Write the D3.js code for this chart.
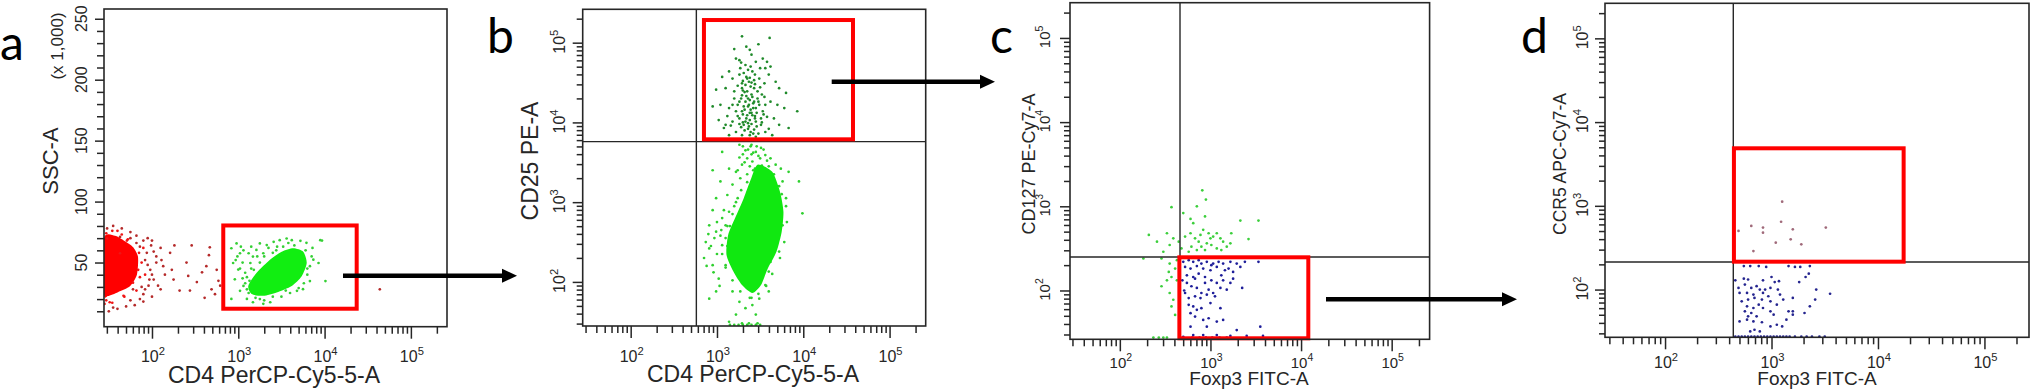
<!DOCTYPE html>
<html>
<head>
<meta charset="utf-8">
<script src="https://cdn.jsdelivr.net/npm/d3@7"></script>
<style>
  html, body { margin: 0; padding: 0; background: #fff; }
  svg { display: block; }
</style>
</head>
<body>
<svg id="fig" width="2032" height="392"></svg>
<script>
// Log channels are stored as log10(intensity); SSC-A is in thousands.
const LOG_MAX = Math.log10(262143);
const xDecades = [2, 3, 4, 5];
const yDecades = [2, 3, 4, 5];
const sscLabels = [50, 100, 150, 200, 250];

// ---- panel a : CD4 (log) vs SSC-A (x1000)
const aRedCore = [[1.444, 70], [1.571, 72], [1.687, 67.5], [1.78, 62.7], [1.838, 54.7], [1.826, 40.2],
  [1.745, 30.5], [1.606, 25.7], [1.49, 22.5], [1.444, 24.1]];
const aRedFringe = [[1.47, 74], [1.54, 76], [1.65, 73], [1.72, 69], [1.85, 58], [1.88, 50], [1.86, 38],
  [1.82, 27], [1.68, 22], [1.54, 17], [1.47, 19], [1.45, 16], [1.71, 68], [1.63, 57.6], [1.84, 44],
  [1.78, 33.5], [1.67, 22.7], [1.51, 17.4], [1.48, 69.7], [1.9, 62], [1.6, 76], [1.92, 40]];
const aRedDots = [[2.26, 64], [2.46, 64], [2.67, 62.5], [2.66, 56], [2.21, 58], [2.11, 52], [2.13, 47],
  [2.23, 44], [2.25, 36], [2.32, 27], [2.44, 27], [2.42, 39], [2.4, 50], [2.52, 34], [2.58, 42], [2.63, 47],
  [2.61, 21], [2.69, 28], [2.75, 44], [2.77, 35], [2.73, 24], [2.79, 31], [1.99, 64], [2.02, 59], [2.05, 50],
  [1.98, 44], [1.96, 31], [2.02, 36], [2.07, 31], [1.9, 24], [1.55, 13], [1.86, 20], [1.75, 19], [1.78, 28],
  [1.94, 58], [1.82, 66], [1.63, 71], [1.75, 70], [1.86, 63], [4.64, 28], [1.95, 70], [2.0, 68], [2.1, 62],
  [2.05, 55], [1.92, 52], [1.95, 48], [2.0, 40], [1.97, 36], [1.92, 28], [1.88, 30], [1.9, 18], [1.8, 15],
  [1.7, 14], [1.6, 12], [1.5, 10], [1.65, 78], [1.75, 75], [1.82, 72], [1.9, 68], [1.55, 80], [1.48, 78],
  [2.15, 40], [2.1, 28], [2.0, 22]];
const aGreenCore = [[3.116, 30.8], [3.213, 41.6], [3.367, 52.3], [3.503, 58.9], [3.637, 61.7], [3.753, 58.9],
  [3.793, 49.6], [3.735, 38.8], [3.619, 30.8], [3.445, 25.5], [3.29, 22.7], [3.155, 24.1]];
const aGreenDots = [[2.92, 61.7], [2.98, 65.7], [3.02, 57.6], [2.94, 49.6], [3.0, 44.2], [2.96, 36.2],
  [2.92, 20.1], [3.06, 30.8], [3.1, 20.1], [3.14, 49.6], [3.17, 54.9], [3.21, 60.3], [3.25, 65.7], [3.33, 64.3],
  [3.41, 67], [3.48, 68.3], [3.56, 69.7], [3.62, 68.3], [3.72, 67.8], [3.79, 66.2], [3.87, 52.3], [3.93, 49.6],
  [3.95, 68.3], [4.01, 34.8], [3.83, 34.8], [3.75, 28.1], [3.68, 26.8], [3.37, 17.4], [3.17, 17.4], [3.02, 26.8],
  [3.08, 41.6], [3.12, 57.6], [3.29, 57.6], [3.29, 16.1], [3.05, 50], [3.1, 38], [3.15, 45], [3.35, 62],
  [3.45, 63], [3.7, 40], [3.8, 45], [3.6, 25], [3.5, 22], [3.25, 20], [2.99, 55], [3.03, 63], [3.97, 68],
  [3.1, 28], [3.13, 35], [3.18, 44], [3.25, 50], [3.3, 55], [3.4, 58], [3.52, 63], [3.65, 64], [3.78, 60],
  [3.85, 55], [3.83, 47], [3.8, 40], [3.76, 33], [3.7, 29], [3.55, 27], [3.4, 22], [3.3, 19], [3.2, 21],
  [3.12, 25], [3.08, 33], [3.05, 37], [3.2, 35], [3.02, 45], [2.97, 52], [3.06, 60], [3.15, 63], [3.22, 55],
  [3.44, 60], [3.58, 66], [3.86, 62]];
const aGate = [2.826, 4.372, 12.1, 80.4];

// ---- panel b : CD4 (log) vs CD25 (log)
const bLowCore = [[3.47, 3.47], [3.64, 3.38], [3.73, 3.13], [3.77, 2.88], [3.75, 2.63], [3.69, 2.38], [3.59, 2.17],
  [3.51, 1.96], [3.41, 1.86], [3.29, 1.96], [3.19, 2.13], [3.11, 2.34], [3.13, 2.59], [3.21, 2.8], [3.31, 3.05],
  [3.39, 3.28]];
const bLowDots = [[3.26, 3.72], [3.33, 3.65], [3.39, 3.7], [3.45, 3.63], [3.51, 3.68], [3.56, 3.59], [3.62, 3.55],
  [3.68, 3.47], [3.35, 3.55], [3.41, 3.51], [3.29, 3.47], [3.22, 3.38], [3.14, 3.42], [3.06, 3.63], [2.95, 3.4],
  [3.04, 3.26], [3.18, 3.22], [3.27, 3.3], [3.76, 3.26], [3.8, 3.05], [3.95, 3.26], [3.76, 2.71], [3.72, 2.38],
  [3.99, 2.86], [2.99, 3.05], [2.91, 2.71], [2.87, 2.5], [2.85, 2.3], [2.95, 2.21], [3.02, 2.04], [2.91, 2.42],
  [2.99, 2.63], [3.06, 2.46], [3.1, 2.21], [3.06, 2.8], [3.14, 2.88], [3.18, 1.88], [3.26, 1.75], [3.33, 1.67],
  [3.41, 1.71], [3.22, 1.59], [3.14, 1.5], [3.45, 1.59], [3.49, 1.79], [3.56, 1.96], [3.6, 2.13], [2.91, 1.79],
  [2.99, 1.88], [3.1, 2.71], [3.74, 3.42], [3.64, 3.26], [3.83, 3.38], [3.12, 3.09], [3.24, 3.05], [3.6, 1.88],
  [3.47, 1.48], [3.29, 1.48], [3.37, 1.48], [3.2, 2.5], [3.25, 2.25], [3.3, 2.05], [3.68, 2.55], [3.7, 2.9],
  [3.75, 3.1], [3.45, 3.35], [3.55, 3.3], [3.35, 3.35], [3.6, 3.45], [3.5, 3.55], [3.4, 3.6], [3.3, 3.6],
  [3.15, 2.7], [3.12, 2.45], [3.0, 2.35], [2.97, 2.55], [3.05, 2.65], [3.08, 2.9], [3.2, 2.95], [3.4, 1.8],
  [3.5, 2.05], [3.62, 2.25], [3.68, 2.7], [3.15, 1.46], [3.2, 1.46], [3.25, 1.46], [3.3, 1.46], [3.35, 1.46],
  [3.4, 1.46], [3.45, 1.46], [3.5, 1.46], [3.1, 2.55], [3.12, 2.7], [3.18, 2.85], [3.22, 3.0], [3.28, 3.15],
  [3.35, 3.25], [3.42, 3.4], [3.55, 3.42], [3.66, 3.35], [3.72, 3.2], [3.8, 2.95], [3.81, 2.75], [3.78, 2.5],
  [3.73, 2.3], [3.64, 2.1], [3.57, 1.95], [3.48, 1.85], [3.38, 1.8], [3.27, 1.88], [3.18, 2.02], [3.1, 2.18],
  [3.06, 2.35], [3.04, 2.58], [3.0, 2.75], [2.95, 2.9], [2.93, 2.45], [2.9, 2.6], [2.88, 2.2], [2.96, 2.12],
  [3.03, 1.95], [3.3, 3.7], [3.36, 3.66], [3.42, 3.62], [3.48, 3.58], [3.4, 3.72], [3.46, 3.7], [3.54, 3.66],
  [3.58, 3.52], [3.52, 3.46], [3.38, 3.45], [3.32, 3.5], [3.26, 3.56], [3.24, 3.4], [3.44, 3.42]];
const bHighDots = [[3.29, 5.08], [3.61, 5.06], [3.38, 4.91], [3.48, 4.98], [3.22, 4.8], [3.26, 4.78], [3.33, 4.72],
  [3.39, 4.7], [3.56, 4.68], [3.62, 4.7], [3.06, 4.57], [3.14, 4.64], [3.18, 4.55], [3.26, 4.6], [3.29, 4.49],
  [3.37, 4.51], [3.43, 4.53], [3.49, 4.55], [3.55, 4.49], [3.6, 4.6], [3.68, 4.51], [3.72, 4.43], [3.8, 4.37],
  [2.99, 4.41], [3.1, 4.43], [3.2, 4.39], [3.29, 4.34], [3.35, 4.39], [3.41, 4.32], [3.47, 4.3], [3.55, 4.32],
  [3.62, 4.26], [3.7, 4.22], [3.78, 4.18], [3.93, 4.14], [2.95, 4.2], [3.04, 4.22], [3.14, 4.18], [3.24, 4.22],
  [3.31, 4.2], [3.39, 4.16], [3.45, 4.18], [3.53, 4.14], [3.58, 4.07], [3.66, 4.05], [3.72, 3.97], [3.83, 3.93],
  [3.02, 4.03], [3.1, 3.97], [3.18, 4.01], [3.26, 4.05], [3.33, 4.01], [3.37, 3.95], [3.43, 3.91], [3.51, 3.97],
  [3.56, 3.88], [3.64, 3.84], [3.22, 3.88], [3.14, 3.84], [3.29, 3.84], [3.45, 3.82], [3.08, 3.93], [3.29, 4.43],
  [3.33, 4.26], [3.37, 4.22], [3.41, 4.09], [3.45, 4.01], [3.35, 4.09], [3.31, 3.97], [3.39, 3.88], [3.43, 4.43],
  [3.47, 4.39], [3.29, 4.14], [3.26, 4.26], [3.49, 4.22], [3.51, 4.05], [3.35, 4.55], [3.41, 4.64], [3.27, 4.68],
  [3.45, 4.76], [3.53, 4.8], [3.58, 4.76], [3.31, 4.62], [3.39, 4.45], [3.33, 4.47], [3.43, 4.26], [3.36, 4.3],
  [3.4, 4.35], [3.32, 4.38], [3.38, 4.12], [3.42, 4.18], [3.3, 4.1], [3.36, 3.99], [3.44, 4.05], [3.34, 4.57],
  [3.4, 4.5], [3.28, 4.3], [3.46, 4.12], [3.3, 4.4], [3.34, 4.33], [3.38, 4.28], [3.42, 4.24], [3.36, 4.2],
  [3.32, 4.16], [3.4, 4.12], [3.44, 4.08], [3.38, 4.03], [3.34, 4.05], [3.3, 4.0], [3.4, 3.98], [3.46, 3.95],
  [3.36, 3.92], [3.32, 3.9], [3.28, 3.94], [3.42, 3.86], [3.48, 3.86], [3.38, 3.84], [3.26, 3.98], [3.24, 4.08],
  [3.22, 4.14], [3.48, 4.26], [3.52, 4.35], [3.5, 4.44], [3.44, 4.48], [3.38, 4.56], [3.3, 4.52], [3.24, 4.46],
  [3.2, 4.3], [3.18, 4.22], [3.56, 4.22], [3.54, 4.1], [3.52, 4.0], [3.6, 3.92], [3.16, 3.96], [3.12, 4.08],
  [3.36, 4.66], [3.44, 4.6], [3.5, 4.68], [3.28, 4.75], [3.4, 4.85], [3.34, 4.95], [3.2, 4.92]];
const bQuad = [2.761, 3.759];
const bGate = [2.849, 4.576, 3.788, 5.284];

// ---- panel c : Foxp3 (log) vs CD127 (log)
const cGreenDots = [[2.91, 3.19], [2.95, 3.08], [2.57, 2.99], [2.85, 3.0], [2.7, 2.92], [2.78, 2.85], [2.81, 2.8],
  [2.94, 2.88], [3.33, 2.83], [3.53, 2.83], [2.32, 2.66], [2.52, 2.68], [2.59, 2.62], [2.72, 2.64], [2.78, 2.68],
  [2.83, 2.62], [2.87, 2.58], [2.89, 2.66], [2.92, 2.72], [2.98, 2.68], [3.0, 2.62], [3.03, 2.64], [3.07, 2.68],
  [3.11, 2.62], [3.14, 2.58], [3.18, 2.52], [3.22, 2.56], [3.23, 2.68], [3.42, 2.61], [2.9, 2.52], [2.94, 2.48],
  [2.85, 2.48], [2.79, 2.52], [2.76, 2.46], [2.68, 2.5], [2.65, 2.58], [2.55, 2.54], [2.48, 2.46], [2.41, 2.58],
  [2.26, 2.38], [2.46, 2.38], [2.55, 2.32], [2.61, 2.26], [2.54, 2.22], [2.57, 2.16], [2.63, 2.12], [2.46, 2.05],
  [2.55, 1.97], [2.59, 1.89], [2.57, 1.81], [2.61, 1.71], [2.52, 2.12], [2.63, 2.36], [3.07, 2.5], [3.01, 2.54],
  [3.12, 2.48], [2.96, 2.56], [2.37, 1.44], [2.43, 1.44], [2.48, 1.44], [2.52, 1.44]];
const cBlueDots = [[2.7, 2.34], [2.76, 2.36], [2.81, 2.34], [2.87, 2.36], [2.9, 2.32], [2.96, 2.34], [3.03, 2.32],
  [3.09, 2.34], [3.14, 2.32], [3.22, 2.34], [3.29, 2.32], [3.38, 2.34], [3.53, 2.34], [2.72, 2.28], [2.78, 2.26],
  [2.85, 2.29], [2.92, 2.26], [3.0, 2.24], [3.07, 2.28], [3.16, 2.24], [3.2, 2.26], [3.25, 2.22], [3.33, 2.28],
  [2.74, 2.18], [2.81, 2.16], [2.87, 2.2], [2.94, 2.16], [3.01, 2.12], [3.07, 2.09], [3.14, 2.12], [3.22, 2.09],
  [2.74, 2.09], [2.79, 2.05], [2.85, 2.03], [2.9, 1.97], [2.98, 2.01], [3.03, 1.97], [3.11, 2.03], [3.18, 2.01],
  [3.35, 2.03], [2.72, 1.97], [2.76, 1.91], [2.83, 1.93], [2.89, 1.91], [2.96, 1.95], [3.05, 1.93], [2.76, 1.83],
  [2.81, 1.81], [2.85, 1.77], [2.9, 1.79], [3.0, 1.85], [3.11, 1.79], [2.78, 1.73], [2.83, 1.69], [2.92, 1.65],
  [2.98, 1.67], [3.07, 1.63], [3.14, 1.65], [2.78, 1.57], [2.96, 1.57], [3.29, 1.53], [3.55, 1.57], [2.81, 1.47],
  [2.92, 1.47], [3.07, 1.47], [3.22, 1.46], [3.4, 1.46], [3.58, 1.46], [2.7, 1.45], [2.76, 2.39], [2.69, 2.12],
  [2.71, 2.0], [3.01, 2.3], [3.12, 2.18], [3.25, 2.14], [2.94, 2.09], [2.83, 2.14], [2.8, 1.44], [2.88, 1.44],
  [2.95, 1.44], [3.02, 1.44], [3.1, 1.44], [3.18, 1.44]];
const cQuad = [2.664, 2.398];
const cGate = [2.657, 4.08, 1.432, 2.394];

// ---- panel d : Foxp3 (log) vs CCR5 (log)
const dMauveDots = [[3.1, 3.05], [2.69, 2.7], [2.81, 2.76], [2.92, 2.74], [2.92, 2.68], [3.09, 2.81], [3.2, 2.72],
  [3.51, 2.74], [3.04, 2.56], [3.18, 2.6], [3.28, 2.54], [2.83, 2.46]];
const dBlueDots = [[2.74, 2.28], [2.8, 2.28], [2.88, 2.28], [2.95, 2.27], [3.16, 2.28], [3.22, 2.27], [3.27, 2.27],
  [3.36, 2.28], [2.66, 2.11], [2.74, 2.13], [2.78, 2.12], [2.92, 2.11], [3.0, 2.15], [3.03, 2.09], [3.07, 2.1],
  [3.26, 2.09], [3.35, 2.19], [3.32, 2.15], [2.69, 2.02], [2.75, 2.06], [2.81, 2.02], [2.86, 2.04], [2.89, 2.0],
  [2.94, 2.0], [2.99, 2.02], [3.06, 2.0], [2.7, 1.96], [2.77, 1.96], [2.83, 1.94], [2.92, 1.96], [2.97, 1.92],
  [3.08, 1.94], [2.72, 1.86], [2.78, 1.88], [2.84, 1.9], [2.91, 1.88], [2.99, 1.86], [3.05, 1.82], [3.11, 1.88],
  [3.2, 1.9], [3.55, 1.95], [2.77, 1.8], [2.83, 1.78], [2.88, 1.82], [2.92, 1.78], [2.99, 1.74], [3.02, 1.7],
  [2.75, 1.74], [2.81, 1.72], [2.78, 1.68], [2.86, 1.68], [3.16, 1.74], [3.2, 1.74], [3.31, 1.72], [3.36, 1.8],
  [3.2, 1.7], [2.7, 1.62], [2.77, 1.64], [2.83, 1.62], [2.91, 1.61], [2.99, 1.56], [3.05, 1.58], [3.1, 1.56],
  [2.84, 1.52], [2.8, 1.5], [2.89, 1.5], [3.14, 1.64], [3.41, 1.88], [3.42, 2.0]];
const dFloorDots = [2.66, 2.69, 2.72, 2.75, 2.78, 2.81, 2.84, 2.87, 2.9, 2.93, 2.96, 2.99, 3.02, 3.05, 3.08,
  3.11, 3.14, 3.17, 3.22, 3.28, 3.33, 3.38, 3.45, 3.5];
const dQuad = [2.641, 2.329];
const dGate = [2.647, 4.241, 2.333, 3.687];

// ---- layout
const svg = d3.select("#fig");
const INK = "#262626";
const FONT = "'Liberation Sans', Arial, sans-serif";

const panels = [
  {
    id: "a", letter: { x: 0, y: 60 },
    box: { left: 104, right: 447, top: 9, bottom: 326.7 },
    xDomain: [1.444, LOG_MAX], yDomain: [-2.65, 258], yLinear: true,
    xLab: { size: 16, base: 361.7 }, yLab: { size: 16, base: 86.7 },
    xTitle: { text: "CD4 PerCP-Cy5-5-A", x: 274, y: 383, size: 23 },
    yTitle: { text: "SSC-A", x: 58, y: 161, size: 22 },
    yNote: { text: "(x 1,000)", x: 63, y: 46, size: 17 },
    layers: [
      { dots: aRedDots, fill: "#b52a2a" },
      { core: aRedCore, fill: "#ff0000" },
      { dots: aRedFringe, fill: "#f01515" },
      { dots: aGreenDots, fill: "#35d035" },
      { core: aGreenCore, fill: "#11ee11" },
    ],
    gate: aGate,
  },
  {
    id: "b", letter: { x: 487, y: 53 },
    box: { left: 582.7, right: 925.7, top: 9.3, bottom: 326 },
    xDomain: [1.444, LOG_MAX], yDomain: [1.447, LOG_MAX],
    xLab: { size: 16, base: 361.7 }, yLab: { size: 16, base: 565 },
    xTitle: { text: "CD4 PerCP-Cy5-5-A", x: 753, y: 382, size: 23 },
    yTitle: { text: "CD25 PE-A", x: 538, y: 161, size: 23 },
    layers: [
      { dots: bLowDots, fill: "#2fd02f" },
      { core: bLowCore, fill: "#10e810" },
      { dots: bHighDots, fill: "#1f8a2a" },
    ],
    quad: bQuad, gate: bGate,
  },
  {
    id: "c", letter: { x: 990, y: 53 },
    box: { left: 1070, right: 1429.6, top: 2.7, bottom: 339.3 },
    xDomain: [1.45, LOG_MAX], yDomain: [1.42, LOG_MAX],
    xLab: { size: 15, base: 368 }, yLab: { size: 15, base: 1050 },
    xTitle: { text: "Foxp3 FITC-A", x: 1249, y: 385, size: 19 },
    yTitle: { text: "CD127 PE-Cy7-A", x: 1035, y: 164, size: 18 },
    layers: [
      { dots: cGreenDots, fill: "#3ccf3c" },
      { dots: cBlueDots, fill: "#1e1e9a" },
    ],
    quad: cQuad, gate: cGate,
  },
  {
    id: "d", letter: { x: 1521, y: 53 },
    box: { left: 1605, right: 2029, top: 3.3, bottom: 337.3 },
    xDomain: [1.436, LOG_MAX], yDomain: [1.43, LOG_MAX],
    xLab: { size: 16, base: 368 }, yLab: { size: 16, base: 1588 },
    xTitle: { text: "Foxp3 FITC-A", x: 1817, y: 385, size: 19 },
    yTitle: { text: "CCR5 APC-Cy7-A", x: 1566, y: 164, size: 17.5 },
    layers: [
      { dots: dMauveDots, fill: "#a06a7a" },
      { dots: dBlueDots, fill: "#25258f" },
      { dots: dFloorDots.map((v) => [v, 1.438]), fill: "#25258f" },
    ],
    quad: dQuad, gate: dGate,
  },
];

const arrows = [
  { x1: 343, x2: 517, y: 275.7 },
  { x1: 831.7, x2: 995, y: 81.7 },
  { x1: 1326, x2: 1517, y: 299.3 },
];

const isDecade = (v) => Math.abs(Math.log10(v) - Math.round(Math.log10(v))) < 1e-9;

function decadeLabel(sel, e, size) {
  sel.append("tspan").text("10");
  sel.append("tspan")
    .attr("dy", -size * 0.45)
    .attr("font-size", size * 0.7)
    .text(e);
}

function drawPanel(p) {
  const b = p.box;
  const g = svg.append("g").attr("class", `panel-${p.id}`);

  const x = d3.scaleLog().domain(p.xDomain.map((e) => 10 ** e)).range([b.left, b.right]);
  const y = p.yLinear
    ? d3.scaleLinear().domain(p.yDomain).range([b.bottom, b.top])
    : d3.scaleLog().domain(p.yDomain.map((e) => 10 ** e)).range([b.bottom, b.top]);
  const fx = (e) => x(10 ** e);
  const fy = p.yLinear ? (v) => y(v) : (e) => y(10 ** e);

  g.append("clipPath").attr("id", `clip-${p.id}`)
    .append("rect")
    .attr("x", b.left).attr("y", b.top)
    .attr("width", b.right - b.left).attr("height", b.bottom - b.top);

  const plot = g.append("g").attr("clip-path", `url(#clip-${p.id})`);
  const shape = d3.line().x((d) => fx(d[0])).y((d) => fy(d[1])).curve(d3.curveCardinalClosed.tension(0.3));

  p.layers.forEach((layer) => {
    if (layer.core) {
      plot.append("path").attr("d", shape(layer.core)).attr("fill", layer.fill);
    } else {
      plot.append("g").selectAll("circle")
        .data(layer.dots)
        .join("circle")
        .attr("cx", (d) => fx(d[0]))
        .attr("cy", (d) => fy(d[1]))
        .attr("r", 1.35)
        .attr("fill", layer.fill);
    }
  });

  // quadrant lines
  if (p.quad) {
    g.append("line")
      .attr("x1", fx(p.quad[0])).attr("x2", fx(p.quad[0]))
      .attr("y1", b.top).attr("y2", b.bottom)
      .attr("stroke", INK).attr("stroke-width", 1.4);
    g.append("line")
      .attr("x1", b.left).attr("x2", b.right)
      .attr("y1", fy(p.quad[1])).attr("y2", fy(p.quad[1]))
      .attr("stroke", INK).attr("stroke-width", 1.4);
  }

  // gate
  const [gx0, gx1, gy0, gy1] = p.gate;
  g.append("rect")
    .attr("x", fx(gx0)).attr("y", fy(gy1))
    .attr("width", fx(gx1) - fx(gx0)).attr("height", fy(gy0) - fy(gy1))
    .attr("fill", "none").attr("stroke", "#ff0000").attr("stroke-width", 4);

  // frame
  g.append("rect")
    .attr("x", b.left).attr("y", b.top)
    .attr("width", b.right - b.left).attr("height", b.bottom - b.top)
    .attr("fill", "none").attr("stroke", INK).attr("stroke-width", 1.6);

  // x axis (log)
  const xt = x.ticks();
  const xMinor = g.append("g").attr("transform", `translate(0,${b.bottom})`)
    .call(d3.axisBottom(x).tickValues(xt.filter((v) => !isDecade(v))).tickSize(7).tickFormat(""));
  const xMajor = g.append("g").attr("transform", `translate(0,${b.bottom})`)
    .call(d3.axisBottom(x).tickValues(xDecades.map((e) => 10 ** e)).tickSize(12).tickFormat(""));

  // y axis
  let yMinor, yMajor;
  if (p.yLinear) {
    const all = d3.range(10, 260, 10);
    yMinor = g.append("g").attr("transform", `translate(${b.left},0)`)
      .call(d3.axisLeft(y).tickValues(all.filter((v) => !sscLabels.includes(v))).tickSize(7).tickFormat(""));
    yMajor = g.append("g").attr("transform", `translate(${b.left},0)`)
      .call(d3.axisLeft(y).tickValues(sscLabels).tickSize(9).tickFormat(""));
  } else {
    const yt = y.ticks();
    yMinor = g.append("g").attr("transform", `translate(${b.left},0)`)
      .call(d3.axisLeft(y).tickValues(yt.filter((v) => !isDecade(v))).tickSize(6).tickFormat(""));
    yMajor = g.append("g").attr("transform", `translate(${b.left},0)`)
      .call(d3.axisLeft(y).tickValues(yDecades.map((e) => 10 ** e)).tickSize(10).tickFormat(""));
  }
  [xMinor, xMajor, yMinor, yMajor].forEach((ax) => {
    ax.select(".domain").remove();
    ax.selectAll(".tick line").attr("stroke", INK).attr("stroke-width", 1.5);
  });

  // x tick labels
  xDecades.forEach((e) => {
    const t = g.append("text")
      .attr("x", x(10 ** e) + 1).attr("y", p.xLab.base)
      .attr("text-anchor", "middle")
      .attr("font-family", FONT).attr("font-size", p.xLab.size).attr("fill", INK);
    decadeLabel(t, e, p.xLab.size);
  });

  // y tick labels (rotated)
  if (p.yLinear) {
    sscLabels.forEach((v) => {
      const yy = y(v);
      g.append("text")
        .attr("transform", `translate(${p.yLab.base},${yy}) rotate(-90)`)
        .attr("text-anchor", "middle")
        .attr("font-family", FONT).attr("font-size", p.yLab.size).attr("fill", INK)
        .text(v);
    });
  } else {
    yDecades.forEach((e) => {
      const t = g.append("text")
        .attr("transform", `translate(${p.yLab.base},${y(10 ** e) - 1}) rotate(-90)`)
        .attr("text-anchor", "middle")
        .attr("font-family", FONT).attr("font-size", p.yLab.size).attr("fill", INK);
      decadeLabel(t, e, p.yLab.size);
    });
  }

  // titles
  g.append("text")
    .attr("x", p.xTitle.x).attr("y", p.xTitle.y)
    .attr("text-anchor", "middle")
    .attr("font-family", FONT).attr("font-size", p.xTitle.size).attr("fill", INK)
    .text(p.xTitle.text);
  [p.yTitle, p.yNote].filter(Boolean).forEach((t) => {
    g.append("text")
      .attr("transform", `translate(${t.x},${t.y}) rotate(-90)`)
      .attr("text-anchor", "middle")
      .attr("font-family", FONT).attr("font-size", t.size).attr("fill", INK)
      .text(t.text);
  });

  // panel letter
  svg.append("text")
    .attr("x", p.letter.x).attr("y", p.letter.y)
    .attr("font-family", "Lato, 'Open Sans', sans-serif")
    .attr("font-size", 48).attr("fill", "#000")
    .text(p.id);
}

panels.forEach(drawPanel);

// arrows between panels
const arrowG = svg.append("g");
arrows.forEach((a) => {
  arrowG.append("line")
    .attr("x1", a.x1).attr("x2", a.x2 - 10)
    .attr("y1", a.y).attr("y2", a.y)
    .attr("stroke", "#000").attr("stroke-width", 4.5);
  arrowG.append("path")
    .attr("d", `M${a.x2},${a.y} L${a.x2 - 15},${a.y - 7} L${a.x2 - 15},${a.y + 7} Z`)
    .attr("fill", "#000");
});
</script>
</body>
</html>
